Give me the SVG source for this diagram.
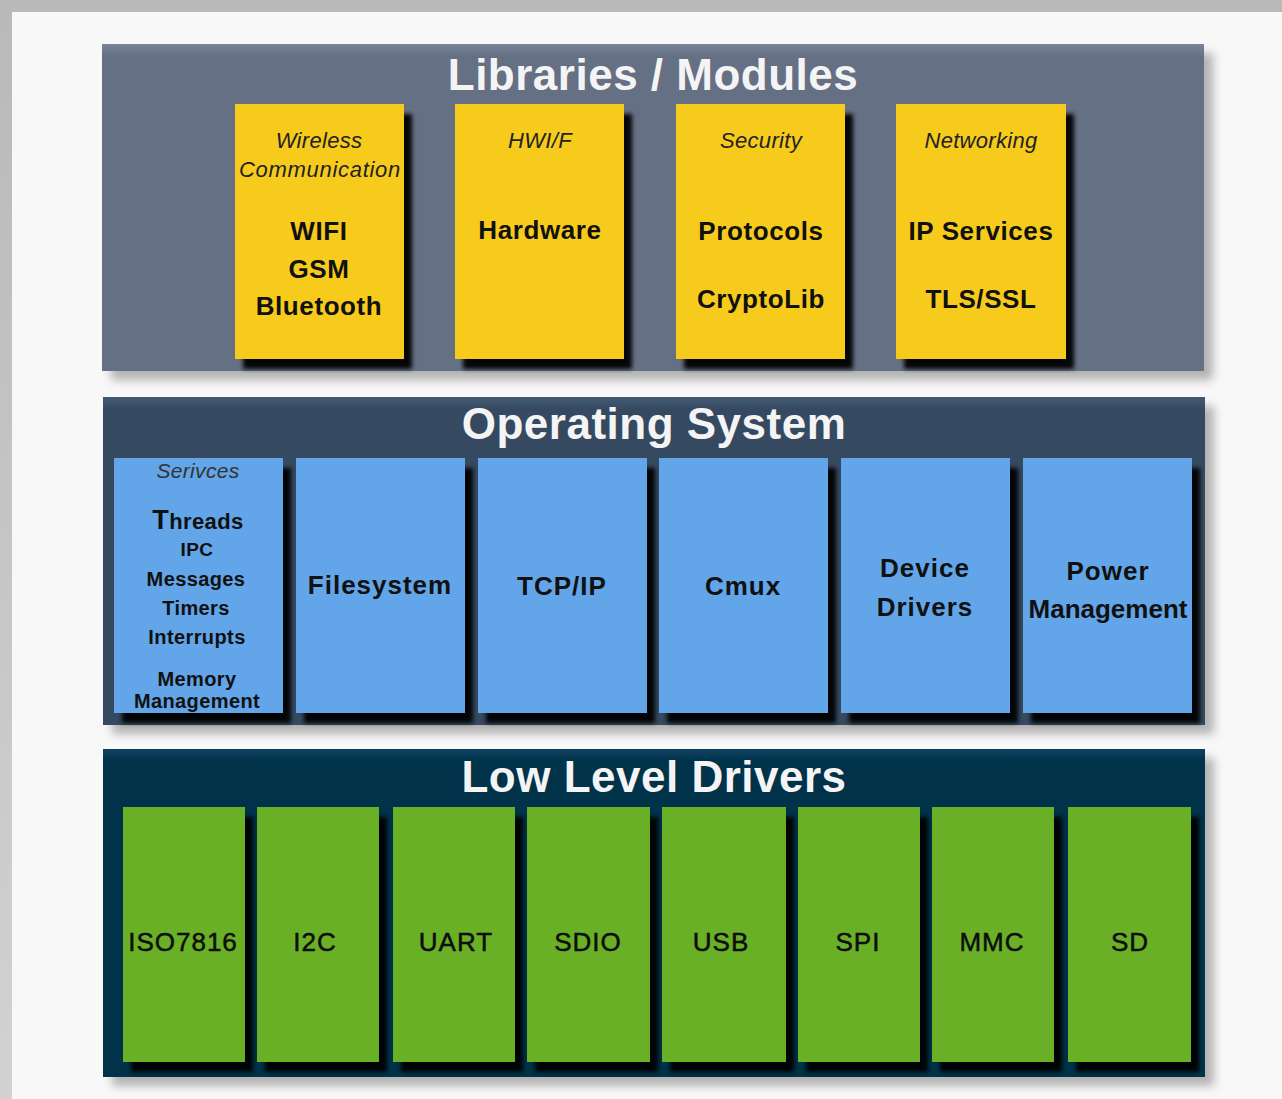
<svg xmlns="http://www.w3.org/2000/svg" width="1282" height="1099" viewBox="0 0 1282 1099">
  <defs>
    <filter id="panelShadow" x="-5%" y="-10%" width="115%" height="130%">
      <feGaussianBlur in="SourceAlpha" stdDeviation="5"/>
      <feOffset dx="9" dy="9" result="b"/>
      <feFlood flood-color="#000" flood-opacity="0.28"/>
      <feComposite in2="b" operator="in"/>
      <feMerge><feMergeNode/><feMergeNode in="SourceGraphic"/></feMerge>
    </filter>
    <filter id="boxShadow" x="-10%" y="-10%" width="130%" height="130%">
      <feGaussianBlur in="SourceAlpha" stdDeviation="2"/>
      <feOffset dx="8" dy="10" result="b"/>
      <feFlood flood-color="#000" flood-opacity="0.95"/>
      <feComposite in2="b" operator="in"/>
      <feMerge><feMergeNode/><feMergeNode in="SourceGraphic"/></feMerge>
    </filter>
    <linearGradient id="frameTop" x1="0" y1="0" x2="0" y2="1">
      <stop offset="0" stop-color="#b9b9b9"/>
      <stop offset="1" stop-color="#d2d2d2"/>
    </linearGradient>
    <linearGradient id="libFill" x1="0" y1="0" x2="0" y2="1">
      <stop offset="0" stop-color="#7b859a"/>
      <stop offset="0.04" stop-color="#656f84"/>
      <stop offset="1" stop-color="#656f84"/>
    </linearGradient>
    <linearGradient id="osFill" x1="0" y1="0" x2="0" y2="1">
      <stop offset="0" stop-color="#435a73"/>
      <stop offset="0.04" stop-color="#344960"/>
      <stop offset="1" stop-color="#344960"/>
    </linearGradient>
    <linearGradient id="lldFill" x1="0" y1="0" x2="0" y2="1">
      <stop offset="0" stop-color="#0c4260"/>
      <stop offset="0.04" stop-color="#013049"/>
      <stop offset="1" stop-color="#013049"/>
    </linearGradient>
  </defs>
  <style>
    text { font-family: "Liberation Sans", Arial, Helvetica, sans-serif; text-anchor: middle; fill: #111; }
    .title { font-size: 44px; font-weight: bold; fill: #f4f4f4; letter-spacing: 0.5px; }
    .cat { font-size: 22px; font-style: italic; fill: #222; letter-spacing: 0.3px; }
    .lbl { font-size: 26px; font-weight: bold; letter-spacing: 0.6px; }
    .blbl { font-size: 26px; font-weight: bold; letter-spacing: 1px; }
    .glbl { font-size: 26px; letter-spacing: 1px; fill: #0d0d0d; stroke: #0d0d0d; stroke-width: 0.5px; }
    .svc { font-size: 20px; font-weight: bold; letter-spacing: 0.4px; }
    .yellow { fill: #f7cb1a; }
    .blue { fill: #62a5e8; }
    .green { fill: #69b025; }
  </style>

  <!-- page frame -->
  <rect x="0" y="0" width="1282" height="1099" fill="url(#frameTop)"/>
  <rect x="12" y="12" width="1270" height="1087" fill="#f8f8f8"/>

  <!-- layer panels -->
  <g id="libraries-modules">
    <rect x="102" y="44" width="1102" height="327" fill="url(#libFill)" filter="url(#panelShadow)"/>
    <text class="title" x="653" y="90">Libraries / Modules</text>
  </g>
  <g id="operating-system">
    <rect x="103" y="397" width="1102" height="328" fill="url(#osFill)" filter="url(#panelShadow)"/>
    <text class="title" x="654" y="439">Operating System</text>
  </g>
  <g id="low-level-drivers">
    <rect x="103" y="749" width="1102" height="328" fill="url(#lldFill)" filter="url(#panelShadow)"/>
    <text class="title" x="654" y="792">Low Level Drivers</text>
  </g>

  <!-- library modules -->
  <g id="wireless">
    <rect class="yellow" x="235" y="104" width="169" height="255" filter="url(#boxShadow)"/>
    <text class="cat" x="319" y="148">Wireless</text>
    <text class="cat" x="320" y="177" style="letter-spacing:0.7px">Communication</text>
    <text class="lbl" x="319" y="240">WIFI</text>
    <text class="lbl" x="319" y="278">GSM</text>
    <text class="lbl" x="319" y="315">Bluetooth</text>
  </g>
  <g id="hwif">
    <rect class="yellow" x="455" y="104" width="169" height="255" filter="url(#boxShadow)"/>
    <text class="cat" x="540" y="148">HWI/F</text>
    <text class="lbl" x="540" y="239">Hardware</text>
  </g>
  <g id="security">
    <rect class="yellow" x="676" y="104" width="169" height="255" filter="url(#boxShadow)"/>
    <text class="cat" x="761" y="148">Security</text>
    <text class="lbl" x="761" y="240">Protocols</text>
    <text class="lbl" x="761" y="308">CryptoLib</text>
  </g>
  <g id="networking">
    <rect class="yellow" x="896" y="104" width="170" height="255" filter="url(#boxShadow)"/>
    <text class="cat" x="981" y="148">Networking</text>
    <text class="lbl" x="981" y="240">IP Services</text>
    <text class="lbl" x="981" y="308">TLS/SSL</text>
  </g>

  <!-- operating system components -->
  <g id="services">
    <rect class="blue" x="114" y="458" width="169" height="255" filter="url(#boxShadow)"/>
    <text class="cat" x="198" y="478" style="font-size:21px;fill:#333">Serivces</text>
    <text class="svc" x="198" y="529" style="font-size:22px"><tspan style="font-size:27px">T</tspan>hreads</text>
    <text class="svc" x="197" y="556" style="font-size:19px">IPC</text>
    <text class="svc" x="196" y="586">Messages</text>
    <text class="svc" x="196" y="615">Timers</text>
    <text class="svc" x="197" y="644">Interrupts</text>
    <text class="svc" x="197" y="686">Memory</text>
    <text class="svc" x="197" y="708">Management</text>
  </g>
  <g id="filesystem">
    <rect class="blue" x="296" y="458" width="169" height="255" filter="url(#boxShadow)"/>
    <text class="blbl" x="380" y="594">Filesystem</text>
  </g>
  <g id="tcpip">
    <rect class="blue" x="478" y="458" width="169" height="255" filter="url(#boxShadow)"/>
    <text class="blbl" x="562" y="595">TCP/IP</text>
  </g>
  <g id="cmux">
    <rect class="blue" x="659" y="458" width="169" height="255" filter="url(#boxShadow)"/>
    <text class="blbl" x="743" y="595">Cmux</text>
  </g>
  <g id="device-drivers">
    <rect class="blue" x="841" y="458" width="169" height="255" filter="url(#boxShadow)"/>
    <text class="blbl" x="925" y="577">Device</text>
    <text class="blbl" x="925" y="616">Drivers</text>
  </g>
  <g id="power-management">
    <rect class="blue" x="1023" y="458" width="169" height="255" filter="url(#boxShadow)"/>
    <text class="blbl" x="1108" y="580">Power</text>
    <text class="blbl" x="1108" y="618" style="letter-spacing:0">Management</text>
  </g>

  <!-- low level drivers -->
  <g id="iso7816">
    <rect class="green" x="123" y="807" width="122" height="255" filter="url(#boxShadow)"/>
    <text class="glbl" x="183" y="951">ISO7816</text>
  </g>
  <g id="i2c">
    <rect class="green" x="257" y="807" width="122" height="255" filter="url(#boxShadow)"/>
    <text class="glbl" x="315" y="951">I2C</text>
  </g>
  <g id="uart">
    <rect class="green" x="393" y="807" width="122" height="255" filter="url(#boxShadow)"/>
    <text class="glbl" x="456" y="951">UART</text>
  </g>
  <g id="sdio">
    <rect class="green" x="527" y="807" width="123" height="255" filter="url(#boxShadow)"/>
    <text class="glbl" x="588" y="951">SDIO</text>
  </g>
  <g id="usb">
    <rect class="green" x="662" y="807" width="124" height="255" filter="url(#boxShadow)"/>
    <text class="glbl" x="721" y="951">USB</text>
  </g>
  <g id="spi">
    <rect class="green" x="798" y="807" width="122" height="255" filter="url(#boxShadow)"/>
    <text class="glbl" x="858" y="951">SPI</text>
  </g>
  <g id="mmc">
    <rect class="green" x="932" y="807" width="122" height="255" filter="url(#boxShadow)"/>
    <text class="glbl" x="992" y="951">MMC</text>
  </g>
  <g id="sd">
    <rect class="green" x="1068" y="807" width="123" height="255" filter="url(#boxShadow)"/>
    <text class="glbl" x="1130" y="951">SD</text>
  </g>

  <!-- the layers are stacked, there are no connecting lines -->
  <g id="connectors"/>
</svg>
